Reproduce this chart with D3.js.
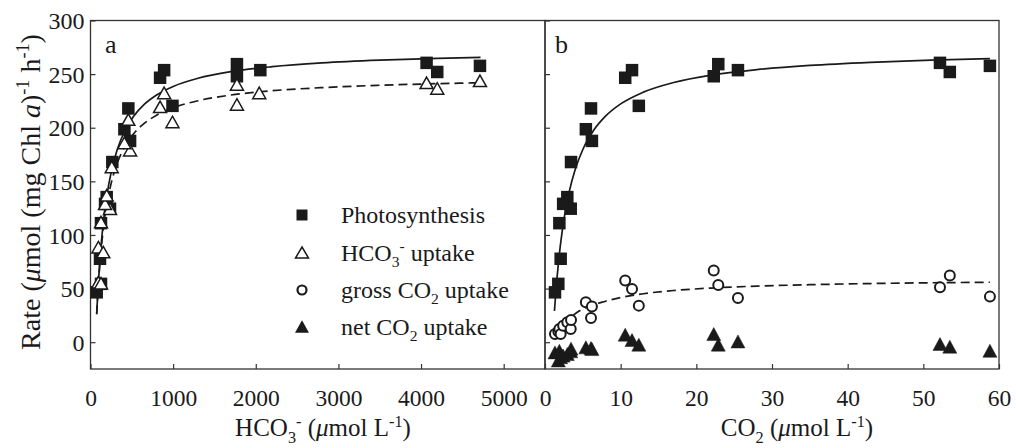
<!DOCTYPE html>
<html><head><meta charset="utf-8">
<script src="https://cdn.jsdelivr.net/npm/d3@7"></script>
<style>
body{margin:0;background:#fff}
svg{display:block}
text{font-family:"Liberation Serif","Times New Roman",serif;fill:#1a1a1a}
</style>
</head><body><svg id="c" width="1016" height="448"></svg>
<script>
// ---- data ----
const yTicks = [0, 50, 100, 150, 200, 250, 300];
const xTicksA = [0, 1000, 2000, 3000, 4000, 5000];
const xTicksB = [0, 10, 20, 30, 40, 50, 60];

// Photosynthesis (same samples plotted vs HCO3- in a and vs CO2 in b)
const photoRate = [46.5, 54.4, 77.8, 111, 124.5, 129, 135.3, 168, 187.7, 198.6, 218, 220.4, 246.6, 253.7, 248, 259.3, 253.7, 260.5, 252, 257.7];
const photoHCO3 = [75, 127, 115, 127, 236, 176, 196, 264, 479, 410, 458, 992, 842, 891, 1772, 1772, 2055, 4067, 4196, 4713];
const photoCO2  = [1.32, 1.76, 2.07, 1.9, 3.4, 2.4, 2.95, 3.44, 6.2, 5.4, 6.08, 12.4, 10.6, 11.5, 22.3, 22.9, 25.5, 52.2, 53.5, 58.8];

// HCO3- uptake (panel a)
const hco3X    = [95, 127, 95, 155, 127, 236, 176, 196, 257, 479, 410, 458, 992, 842, 891, 1772, 1772, 2042, 4067, 4196, 4713];
const hco3Rate = [56, 55, 88.6, 84, 112, 124.5, 129, 137, 163.4, 179, 185.8, 207.6, 205.4, 219.5, 232.5, 240.4, 221.7, 232.5, 241.9, 236.6, 243.7];

// gross / net CO2 uptake (panel b)
const co2X      = [1.32, 1.76, 1.9, 2.07, 2.4, 2.95, 3.4, 3.44, 5.4, 6.2, 6.08, 10.6, 11.5, 12.4, 22.3, 22.9, 25.5, 52.2, 53.5, 58.8];
const grossRate = [7.6, 10, 12.3, 7.6, 15.4, 18.5, 12.3, 20.6, 37.2, 33.2, 22.6, 57.5, 49.7, 34.1, 66.8, 53.4, 41.3, 51.2, 62.1, 42.5];
const netRate   = [-9.5, -17, -8, -14, -12.5, -11, -8.5, -6, -4.8, -6.4, -5.5, 7, 2, -2.3, 7.6, -2.3, 0.7, -1.7, -4.2, -8];

// fitted curves
const fitAX      = [75, 90, 110, 130, 160, 200, 250, 320, 420, 520, 650, 800, 1000, 1300, 1700, 2200, 2800, 3500, 4200, 4720];
const fitAPhoto  = [26.8, 48.8, 72.7, 92.0, 114.9, 137.7, 158.4, 178.7, 197.7, 210.4, 221.7, 230.5, 238.5, 246.1, 252.3, 256.9, 260.4, 263.0, 264.7, 265.6];
const fitAHCO3   = [25.9, 46.9, 69.4, 87.4, 108.6, 129.4, 148.1, 166.2, 183.0, 194.2, 204.0, 211.7, 218.6, 225.2, 230.5, 234.5, 237.4, 239.6, 241.1, 241.9];
const fitBX      = [1.25, 1.4, 1.6, 1.8, 2.0, 2.3, 2.7, 3.2, 4, 5, 6.5, 8, 10, 13, 17, 22, 28, 35, 43, 51, 58.8];
const fitBPhoto  = [29.1, 43.8, 60.9, 75.6, 88.4, 104.8, 122.6, 140.2, 161.2, 179.7, 198.3, 210.8, 222.2, 233.2, 242.2, 249.1, 254.2, 258.1, 261.0, 263.0, 264.4];
const fitBGrossX = [3.7, 4.5, 6, 8, 10, 13, 17, 22, 28, 35, 43, 51, 58.8];
const fitBGross  = [25, 29, 34, 38.2, 41.7, 45.2, 48.2, 50.5, 52.3, 53.6, 54.7, 55.4, 55.9];

const legendItems = ["Photosynthesis", "HCO3- uptake", "gross CO2 uptake", "net CO2 uptake"];

// ---- drawing ----
const svg = d3.select('#c');
const ink = '#1a1a1a';
const axisCol = '#333';
const y  = d3.scaleLinear().domain([-25, 300]).range([369, 20.5]);
const xa = d3.scaleLinear().domain([0, 5500]).range([90.5, 545]);
const xb = d3.scaleLinear().domain([0, 60]).range([545, 999]);
const zip = (a, b) => a.map((v, i) => [v, b[i]]);

// frames
[xa, xb].forEach(x => {
  svg.append('rect')
    .attr('x', x.range()[0]).attr('y', y.range()[1])
    .attr('width', x.range()[1] - x.range()[0])
    .attr('height', y.range()[0] - y.range()[1])
    .attr('fill', 'none').attr('stroke', axisCol).attr('stroke-width', 1.3);
});

function styleAxis(g, fs) {
  g.select('.domain').remove();
  g.selectAll('.tick line').attr('stroke', axisCol).attr('stroke-width', 1.2);
  g.selectAll('text').attr('font-size', fs).attr('fill', ink)
    .attr('font-family', '"Liberation Serif","Times New Roman",serif');
}

const gxa = svg.append('g').attr('transform', 'translate(0,369)')
  .call(d3.axisBottom(xa).tickValues(xTicksA).tickSize(-5).tickSizeOuter(0).tickFormat(d3.format('d')));
styleAxis(gxa, 23.5);
gxa.selectAll('text').attr('y', 37).attr('dy', 0);

const gxb = svg.append('g').attr('transform', 'translate(0,369)')
  .call(d3.axisBottom(xb).tickValues(xTicksB).tickSize(-5).tickSizeOuter(0).tickFormat(d3.format('d')));
styleAxis(gxb, 23.5);
gxb.selectAll('text').attr('y', 37).attr('dy', 0);

const gya = svg.append('g').attr('transform', 'translate(90.5,0)')
  .call(d3.axisLeft(y).tickValues(yTicks).tickSize(-5).tickSizeOuter(0).tickFormat(d3.format('d')));
styleAxis(gya, 24);
gya.selectAll('text').attr('x', -6).attr('dy', '0.34em');

const gyb = svg.append('g').attr('transform', 'translate(545,0)')
  .call(d3.axisLeft(y).tickValues(yTicks).tickSize(-5).tickSizeOuter(0).tickFormat(''));
styleAxis(gyb, 24);

// curves
function curve(x, xs, ys, dashed) {
  svg.append('path').datum(zip(xs, ys))
    .attr('fill', 'none').attr('stroke', ink).attr('stroke-width', 1.7)
    .attr('stroke-dasharray', dashed ? '9,5' : null)
    .attr('d', d3.line().x(d => x(d[0])).y(d => y(d[1])).curve(d3.curveMonotoneX));
}
curve(xa, fitAX, fitAPhoto, false);
curve(xa, fitAX, fitAHCO3, true);
curve(xb, fitBX, fitBPhoto, false);
curve(xb, fitBGrossX, fitBGross, true);

// markers
const triPath = (w, h) => `M0,${-h / 2}L${w / 2},${h / 2}L${-w / 2},${h / 2}Z`;
function squares(x, xs, ys, s) {
  svg.append('g').selectAll('rect').data(zip(xs, ys)).join('rect')
    .attr('x', d => x(d[0]) - s / 2).attr('y', d => y(d[1]) - s / 2)
    .attr('width', s).attr('height', s).attr('fill', ink);
}
function triangles(x, xs, ys, filled) {
  svg.append('g').selectAll('path').data(zip(xs, ys)).join('path')
    .attr('transform', d => `translate(${x(d[0])},${y(d[1])})`)
    .attr('d', filled ? triPath(14, 13) : triPath(13, 11.5))
    .attr('fill', filled ? ink : '#fff')
    .attr('stroke', ink).attr('stroke-width', filled ? 0.5 : 1.5)
    .attr('stroke-linejoin', 'miter');
}
function circles(x, xs, ys) {
  svg.append('g').selectAll('circle').data(zip(xs, ys)).join('circle')
    .attr('cx', d => x(d[0])).attr('cy', d => y(d[1])).attr('r', 5)
    .attr('fill', '#fff').attr('stroke', ink).attr('stroke-width', 2);
}
squares(xa, photoHCO3, photoRate, 12.5);
triangles(xa, hco3X, hco3Rate, false);
squares(xb, photoCO2, photoRate, 12.5);
circles(xb, co2X, grossRate);
triangles(xb, co2X, netRate, true);

// panel letters
svg.append('text').attr('x', 105).attr('y', 53).attr('font-size', 26).text('a');
svg.append('text').attr('x', 555).attr('y', 53).attr('font-size', 26).text('b');

// rich-text helper: parts = [text, mode] mode: n, i (italic), sub, sup
function rich(t, parts, fs) {
  let shift = 0;
  parts.forEach(([s, m]) => {
    const ts = t.append('tspan').text(s);
    let target = 0;
    if (m === 'sub') { target = fs * 0.26; ts.attr('font-size', fs * 0.65); }
    else if (m === 'sup') { target = -fs * 0.38; ts.attr('font-size', fs * 0.65); }
    else if (m === 'i') { ts.attr('font-style', 'italic'); }
    if (target !== shift) { ts.attr('dy', target - shift); shift = target; }
  });
  return t;
}

// legend
const legFs = 24;
const legY = [215, 252.5, 290, 326.5];
const legParts = [
  [[legendItems[0], 'n']],
  [['HCO', 'n'], ['3', 'sub'], ['-', 'sup'], [' uptake', 'n']],
  [['gross CO', 'n'], ['2', 'sub'], [' uptake', 'n']],
  [['net CO', 'n'], ['2', 'sub'], [' uptake', 'n']]
];
const lg = svg.append('g');
lg.append('rect').attr('x', 302 - 5.5).attr('y', legY[0] - 5.5).attr('width', 11).attr('height', 11).attr('fill', ink);
lg.append('path').attr('transform', `translate(302,${legY[1]})`).attr('d', triPath(13, 11))
  .attr('fill', '#fff').attr('stroke', ink).attr('stroke-width', 1.5);
lg.append('circle').attr('cx', 302).attr('cy', legY[2]).attr('r', 4.5)
  .attr('fill', '#fff').attr('stroke', ink).attr('stroke-width', 2.2);
lg.append('path').attr('transform', `translate(302,${legY[3]})`).attr('d', triPath(14, 12.5)).attr('fill', ink);
legParts.forEach((p, i) => {
  rich(lg.append('text').attr('x', 341).attr('y', legY[i] + 8).attr('font-size', legFs), p, legFs);
});

// axis titles
const tFs = 25;
rich(svg.append('text').attr('x', 323).attr('y', 436).attr('text-anchor', 'middle').attr('font-size', tFs),
  [['HCO', 'n'], ['3', 'sub'], ['-', 'sup'], [' (', 'n'], ['\u03bc', 'i'], ['mol L', 'n'], ['-1', 'sup'], [')', 'n']], tFs);
rich(svg.append('text').attr('x', 797).attr('y', 436).attr('text-anchor', 'middle').attr('font-size', tFs),
  [['CO', 'n'], ['2', 'sub'], [' (', 'n'], ['\u03bc', 'i'], ['mol L', 'n'], ['-1', 'sup'], [')', 'n']], tFs);
rich(svg.append('text').attr('transform', 'translate(40,192) rotate(-90)').attr('text-anchor', 'middle').attr('font-size', 28),
  [['Rate (', 'n'], ['\u03bc', 'i'], ['mol (mg Chl ', 'n'], ['a', 'i'], [')', 'n'], ['-1', 'sup'], [' h', 'n'], ['-1', 'sup'], [')', 'n']], 28);
</script></body></html>
